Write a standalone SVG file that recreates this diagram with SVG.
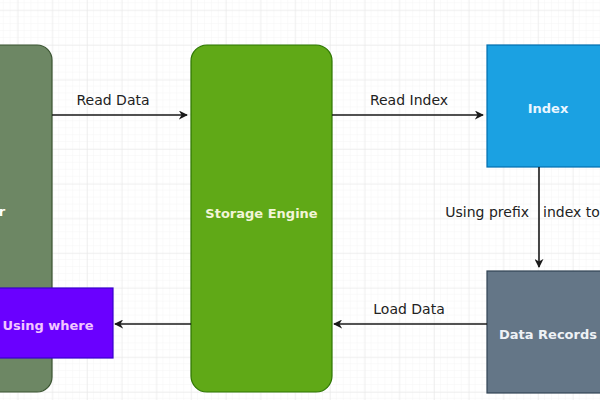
<svg xmlns="http://www.w3.org/2000/svg" width="600" height="400" viewBox="0 0 600 400">
<defs>
<pattern id="minor" x="17.6" y="10.2" width="6.94" height="6.94" patternUnits="userSpaceOnUse">
<path d="M6.94 0V6.94H0" fill="none" stroke="#f3f3f3" stroke-width="0.8"/>
</pattern>
<pattern id="major" x="17.6" y="10.2" width="34.7" height="34.7" patternUnits="userSpaceOnUse">
<path d="M0 0V34.7M0 0H34.7" fill="none" stroke="#e6e6e6" stroke-width="1"/>
</pattern>
<marker id="arr" viewBox="0 0 10 10" refX="9" refY="5" markerWidth="9" markerHeight="9" markerUnits="userSpaceOnUse" orient="auto">
<path d="M0 0L10 5L0 10L3 5Z" fill="#1a1a1a"/>
</marker>
<style>
.lbl{font-family:"DejaVu Sans","Liberation Sans",sans-serif;font-size:14px;fill:#222;}
.ntxt{font-family:"DejaVu Sans","Liberation Sans",sans-serif;font-size:13px;font-weight:bold;text-anchor:middle;dominant-baseline:central;}
.conn{stroke:#1a1a1a;stroke-width:1.6;fill:none;marker-end:url(#arr);}
</style>
</defs>
<rect width="600" height="400" fill="#ffffff"/>
<rect width="600" height="400" fill="url(#minor)"/>
<rect width="600" height="400" fill="url(#major)"/>
<g id="client">
<rect x="-30" y="45" width="82" height="347" rx="15" fill="#6d8764" stroke="#3a5431" stroke-width="1.2"/>
<text class="ntxt" x="2" y="211" fill="#ffffff" text-anchor="start">r</text>
</g>
<g id="storage-engine">
<rect x="191" y="45" width="141" height="347" rx="16" fill="#60a917" stroke="#2d7600" stroke-width="1.2"/>
<text class="ntxt" x="261.5" y="213" fill="#f2f5d8">Storage Engine</text>
</g>
<g id="index">
<rect x="487" y="45" width="120" height="122" fill="#1ba1e2" stroke="#006eaf" stroke-width="1.2"/>
<text class="ntxt" x="548" y="108" fill="#eaf6ff">Index</text>
</g>
<g id="data-records">
<rect x="487" y="271" width="120" height="122" fill="#647687" stroke="#314354" stroke-width="1.2"/>
<text class="ntxt" x="548" y="334" fill="#eef2f6">Data Records</text>
</g>
<g id="using-where">
<rect x="-5" y="288" width="118" height="70" fill="#6a00ff" stroke="#3700cc" stroke-width="1.2"/>
<text class="ntxt" x="48" y="325" fill="#f2c6ff">Using where</text>
</g>
<g id="connectors">
<path class="conn" d="M52 115H187"/>
<text class="lbl" x="113" y="105" text-anchor="middle">Read Data</text>
<path class="conn" d="M332 115H483"/>
<text class="lbl" x="409" y="105" text-anchor="middle">Read Index</text>
<path class="conn" d="M539 167V267"/>
<text class="lbl" x="529" y="217" text-anchor="end">Using prefix</text>
<text class="lbl" x="543" y="217">index to</text>
<path class="conn" d="M487 324H334"/>
<text class="lbl" x="409" y="314" text-anchor="middle">Load Data</text>
<path class="conn" d="M191 324H115"/>
</g>
</svg>
